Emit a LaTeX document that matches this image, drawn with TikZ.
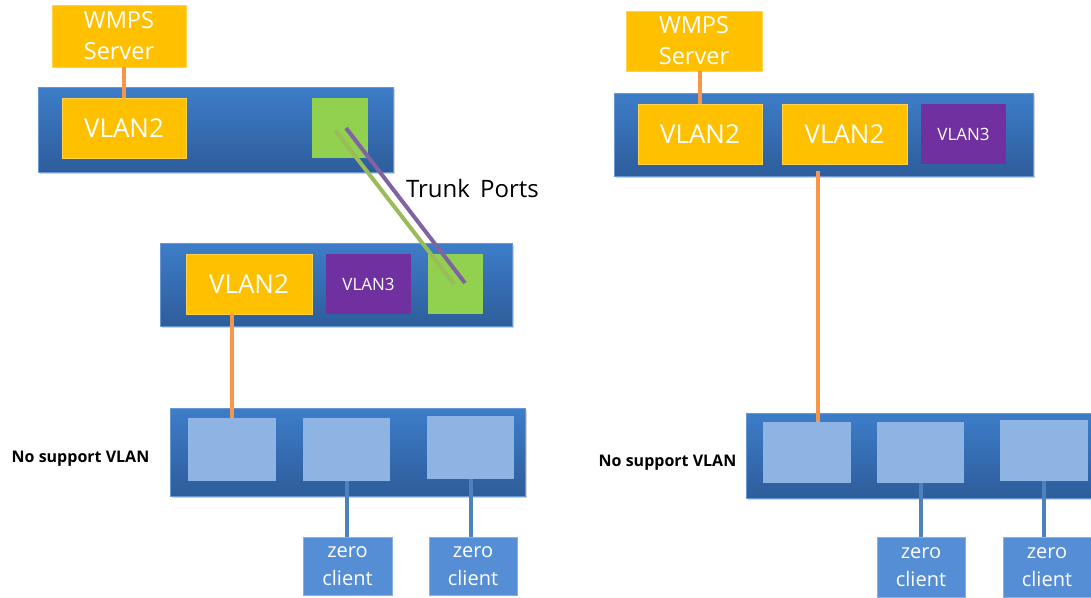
\documentclass[tikz,border=0pt]{standalone}
\usepackage{fontspec}
\setmainfont{Open Sans}
\usetikzlibrary{shadows}
\definecolor{swtop}{HTML}{3D7DC9}
\definecolor{swbot}{HTML}{2E5D9B}
\definecolor{vyel}{HTML}{FFC000}
\definecolor{vgrn}{HTML}{92D050}
\definecolor{vpur}{HTML}{7030A0}
\definecolor{port}{HTML}{8EB4E3}
\definecolor{zcl}{HTML}{558ED5}
\definecolor{orng}{HTML}{F79646}
\definecolor{blink}{HTML}{4F81BD}
\definecolor{tgrn}{HTML}{9BBB59}
\definecolor{tpur}{HTML}{8064A2}
\tikzset{
  switchbox/.style={draw=swtop!80!white, line width=0.6pt, top color=swtop, bottom color=swbot, inner sep=0pt,
    drop shadow={shadow xshift=2pt, shadow yshift=-2pt, opacity=0.35}},
  yelbox/.style={fill=vyel, draw=vyel!70!white, line width=0.6pt, inner sep=0pt, text=white, align=center},
  grnbox/.style={fill=vgrn, inner sep=0pt},
  purbox/.style={fill=vpur, inner sep=0pt, text=white, font=\fontsize{17}{19}\selectfont},
  portbox/.style={fill=port, inner sep=0pt},
  zcbox/.style={fill=zcl, draw=zcl!70!white, line width=0.6pt, inner sep=0pt, text=white, align=center, font=\fontsize{20}{28}\selectfont},
  olink/.style={draw=orng, line width=3.5pt},
  blinkline/.style={draw=blink, line width=4pt},
  lbl/.style={inner sep=0pt, text=black},
  big/.style={font=\fontsize{26}{30}\selectfont},
  trk/.style={font=\fontsize{24}{28}\selectfont},
  srv/.style={font=\fontsize{23.5}{31}\selectfont},
}
\begin{document}
\begin{tikzpicture}[x=1pt,y=-1pt]
\useasboundingbox (0,0) rectangle (1091,597);
% ---------- left ----------
\node[yelbox, srv, minimum width=134pt, minimum height=62pt] (server1) at (119,36) {WMPS\\Server};
\node[switchbox, minimum width=355pt, minimum height=85pt] (sw1) at (215.5,129.5) {};
\node[yelbox, big, minimum width=124pt, minimum height=60pt] (v2a) at (124,128) {VLAN2};
\node[grnbox, minimum width=56pt, minimum height=60pt] (gp1) at (340,128) {};
\draw[olink] (v2a.north) -- (v2a.north |- server1.south);

\node[switchbox, minimum width=352pt, minimum height=83pt] (sw2) at (336,284.5) {};
\node[yelbox, big, minimum width=126pt, minimum height=60pt] (v2b) at (249,284) {VLAN2};
\node[purbox, minimum width=85pt, minimum height=60pt] (v3a) at (368.5,284) {VLAN3};
\node[grnbox, minimum width=55pt, minimum height=60pt] (gp2) at (455.5,284) {};

\coordinate (ga) at (335,130);
\coordinate (gb) at (454,284);
\coordinate (pa) at (346,128);
\coordinate (pb) at (465,283);
\draw[draw=tgrn, line width=4pt] (ga) -- (gb);
\draw[draw=tpur, line width=4pt] (pa) -- (pb);
\node[lbl, trk] (trunk) at (472.5,188) {Trunk\ \,Ports};

\node[switchbox, minimum width=355pt, minimum height=88pt] (sw3) at (347.5,452) {};
\node[portbox, minimum width=88pt, minimum height=63pt] (p1) at (232,449.5) {};
\node[portbox, minimum width=87pt, minimum height=63pt] (p2) at (346.5,449.5) {};
\node[portbox, minimum width=87pt, minimum height=63pt] (p3) at (470.5,447.5) {};
\draw[olink] (p1.north |- v2b.south) -- (p1.north);
\node[lbl, font=\bfseries\fontsize{16}{18}\selectfont] (ns1) at (80.5,459) {No support VLAN};

\node[zcbox, minimum width=89pt, minimum height=58pt] (zc1) at (347.5,566) {zero\\client};
\node[zcbox, minimum width=88pt, minimum height=58pt] (zc2) at (473,566) {zero\\client};
\draw[blinkline] (p2.south) -- (p2.south |- zc1.north);
\draw[blinkline] (p3.south) -- (p3.south |- zc2.north);

% ---------- right ----------
\node[yelbox, srv, minimum width=136pt, minimum height=60pt] (server2) at (694,41) {WMPS\\Server};
\node[switchbox, minimum width=419pt, minimum height=83pt] (sw4) at (823.5,134.5) {};
\node[yelbox, big, minimum width=124pt, minimum height=60pt] (r1) at (700,134) {VLAN2};
\node[yelbox, big, minimum width=125pt, minimum height=60pt] (r2) at (844.5,134) {VLAN2};
\node[purbox, minimum width=85pt, minimum height=60pt] (r3) at (963.5,134) {VLAN3};
\draw[olink] (r1.north) -- (r1.north |- server2.south);

\node[switchbox, minimum width=345pt, minimum height=85pt] (sw5) at (918.5,455.5) {};
\node[portbox, minimum width=88pt, minimum height=61pt] (q1) at (807,452.5) {};
\node[portbox, minimum width=87pt, minimum height=61pt] (q2) at (920.5,452.5) {};
\node[portbox, minimum width=88pt, minimum height=61pt] (q3) at (1044,450.5) {};
\coordinate (o2) at (818,171);
\draw[olink] (o2) -- (o2 |- q1.north);
\node[lbl, font=\bfseries\fontsize{16}{18}\selectfont] (ns2) at (667.5,463) {No support VLAN};

\node[zcbox, minimum width=88pt, minimum height=60pt] (zc3) at (921,567) {zero\\client};
\node[zcbox, minimum width=88pt, minimum height=60pt] (zc4) at (1047,567) {zero\\client};
\draw[blinkline] (q2.south) -- (q2.south |- zc3.north);
\draw[blinkline] (q3.south) -- (q3.south |- zc4.north);
\end{tikzpicture}
\end{document}
